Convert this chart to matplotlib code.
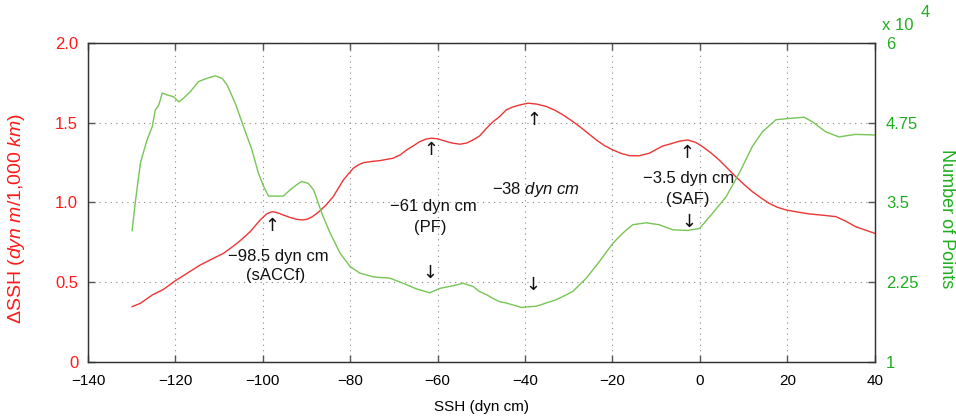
import matplotlib
matplotlib.use("Agg")
import matplotlib.pyplot as plt

plt.rcParams['font.family'] = ['Liberation Sans', 'DejaVu Sans']
plt.rcParams['mathtext.fontset'] = 'custom'
plt.rcParams['mathtext.rm'] = 'Liberation Sans'
plt.rcParams['mathtext.it'] = 'Liberation Sans:italic'

# Gradient of SSH (dyn m / 1,000 km) versus SSH (dyn cm)
ssh_grad = [-129.9, -128.0, -126.5, -125.3, -122.7, -120.0, -117.3, -114.3, -111.3,
            -109.0, -107.5, -105.9, -104.4, -102.9, -100.6, -99.1, -98.3, -97.7,
            -96.5, -95.3, -93.7, -92.2, -91.0, -89.9, -88.7, -87.6, -86.9, -85.5,
            -83.9, -82.7, -81.6, -80.4, -79.3, -78.0, -77.0, -75.0, -73.2, -70.2,
            -68.5, -67.1, -65.5, -64.1, -62.7, -61.4, -60.0, -58.7, -56.8, -54.9,
            -53.3, -51.9, -50.4, -48.8, -47.3, -45.8, -44.3, -42.8, -41.2, -39.3,
            -37.3, -35.1, -33.2, -31.3, -29.4, -27.5, -25.6, -23.7, -21.8, -19.9,
            -18.0, -16.1, -14.0, -11.6, -10.0, -8.5, -7.0, -4.7, -2.8, -1.0, 0.6,
            2.5, 4.4, 6.3, 8.2, 10.1, 12.0, 13.9, 15.8, 17.7, 19.7, 22.3, 25.0,
            28.0, 31.1, 33.4, 35.6, 38.0, 40.0]
grad = [0.345, 0.366, 0.395, 0.418, 0.454, 0.508, 0.555, 0.607, 0.649,
        0.680, 0.710, 0.743, 0.778, 0.816, 0.890, 0.928, 0.938, 0.942,
        0.934, 0.921, 0.905, 0.894, 0.890, 0.894, 0.910, 0.932, 0.948, 0.985,
        1.036, 1.090, 1.140, 1.180, 1.215, 1.238, 1.250, 1.258, 1.263, 1.278,
        1.300, 1.330, 1.357, 1.382, 1.398, 1.404, 1.400, 1.389, 1.374, 1.366,
        1.374, 1.393, 1.418, 1.467, 1.508, 1.540, 1.582, 1.600, 1.613, 1.624,
        1.618, 1.603, 1.580, 1.550, 1.515, 1.477, 1.435, 1.393, 1.357, 1.330,
        1.308, 1.294, 1.293, 1.309, 1.333, 1.355, 1.366, 1.385, 1.393, 1.378, 1.351,
        1.312, 1.267, 1.215, 1.162, 1.113, 1.068, 1.030, 0.995, 0.970, 0.953, 0.940, 0.928,
        0.920, 0.911, 0.882, 0.848, 0.825, 0.806]

# Number of points (x 10^4) versus SSH (dyn cm)
ssh_count = [-129.9, -129.1, -128.0, -126.5, -125.3, -124.6, -123.8, -123.0, -121.9,
             -120.4, -119.2, -118.1, -116.6, -114.7, -112.8, -110.9, -109.3, -108.2,
             -106.3, -104.4, -102.5, -101.0, -99.8, -98.7, -96.8, -95.3, -93.7, -92.2,
             -91.1, -89.6, -88.4, -87.3, -86.5, -84.6, -82.3, -80.0, -77.8, -74.7,
             -70.9, -67.9, -64.8, -61.8, -59.5, -56.5, -54.2, -51.9, -50.4, -48.8,
             -47.3, -45.8, -44.3, -40.8, -37.4, -32.9, -29.1, -26.0, -23.0, -19.9,
             -17.6, -15.4, -12.3, -9.3, -7.0, -6.2, -2.8, -0.1, 2.9, 6.0, 9.0, 12.0,
             14.3, 17.4, 20.4, 23.8, 25.7, 28.8, 31.8, 35.6, 40.0]
count = [3.057, 3.54, 4.12, 4.48, 4.69, 4.95, 5.03, 5.22, 5.19,
         5.16, 5.08, 5.14, 5.24, 5.40, 5.45, 5.49, 5.45, 5.35,
         5.06, 4.69, 4.33, 3.96, 3.75, 3.60, 3.60, 3.60, 3.70, 3.78,
         3.83, 3.80, 3.70, 3.49, 3.33, 3.02, 2.70, 2.49, 2.39, 2.33,
         2.31, 2.23, 2.14, 2.08, 2.15, 2.19, 2.23, 2.18, 2.10, 2.05,
         1.99, 1.94, 1.92, 1.85, 1.87, 1.97, 2.10, 2.31, 2.57, 2.86,
         3.02, 3.15, 3.18, 3.15, 3.09, 3.07, 3.06, 3.09, 3.33, 3.59, 3.96, 4.38,
         4.61, 4.80, 4.82, 4.84, 4.77, 4.61, 4.53, 4.57, 4.56]

x_ticks = [-140, -120, -100, -80, -60, -40, -20, 0, 20, 40]
left_ticks = [0, 0.5, 1.0, 1.5, 2.0]
left_labels = ['0', '0.5', '1.0', '1.5', '2.0']
right_ticks = [1, 2.25, 3.5, 4.75, 6]
right_labels = ['1', '2.25', '3.5', '4.75', '6']

RED = '#ee3535'
RED_TXT = '#ff1a1a'
GREEN = '#77c655'
GREEN_TXT = '#1fae1f'
FS = 11

fig = plt.figure(figsize=(9.56, 4.17), dpi=100)
ax = fig.add_axes([0.092, 0.133, 0.823, 0.763])
ax2 = ax.twinx()

ax.plot(ssh_grad, grad, color=RED, lw=1.0, zorder=3)
ax2.plot(ssh_count, count, color=GREEN, lw=1.0)

ax.set_xlim(-140, 40)
ax.set_ylim(0, 2.0)
ax2.set_ylim(1, 6)
ax.set_xticks(x_ticks)
ax.set_xticklabels([str(t).replace('-', '\u2212') for t in x_ticks], fontsize=FS)
ax.set_yticks(left_ticks)
ax.set_yticklabels(left_labels, fontsize=FS + 1, color=RED_TXT)
ax2.set_yticks(right_ticks)
ax2.set_yticklabels(right_labels, fontsize=FS + 1, color=GREEN_TXT)

ax.grid(True, linestyle=(0, (1, 4)), color='#888888', lw=0.8)
ax.tick_params(axis='both', direction='in', length=5, width=1, color='#555555',
               top=True, pad=7)
ax.tick_params(axis='x', pad=9)
ax.tick_params(axis='y', colors=RED_TXT, color='#555555')
ax2.tick_params(axis='y', direction='in', length=5, width=1, color='#555555',
                colors=GREEN_TXT, pad=8)
ax2.tick_params(axis='y', color='#555555')
for sp in list(ax.spines.values()) + list(ax2.spines.values()):
    sp.set_color('#333333')
    sp.set_linewidth(0.9)

ax.set_xlabel('SSH (dyn cm)', fontsize=FS)
ax.xaxis.set_label_coords(0.5, -0.12)
ax.set_ylabel(r'ΔSSH $\mathit{(dyn\ m/1{,}000\ km)}$', fontsize=FS + 3,
              color=RED_TXT)
ax.yaxis.set_label_coords(-0.077, 0.45)
ax2.set_ylabel('Number of Points', fontsize=FS + 2, color=GREEN_TXT,
               rotation=270, va='center')
ax2.yaxis.set_label_coords(1.091, 0.45)

fig.text(0.923, 0.94, 'x 10', fontsize=FS + 1, color=GREEN_TXT, ha='left', va='center')
fig.text(0.963, 0.969, '4', fontsize=FS + 1, color=GREEN_TXT, ha='left', va='center')

# Front annotations
def note(x, y, s):
    ax.text(x, y, s, ha='center', va='center', fontsize=FS + 1, color='#111111')

def arrow(x, y, up=True):
    ax.text(x, y, '\u2191' if up else '\u2193', ha='center', va='center',
            fontsize=FS + 2, color='#111111', family=['DejaVu Sans'])

note(-96.4, 0.66, '\u221298.5 dyn cm')
note(-97.0, 0.54, '(sACCf)')
arrow(-97.8, 0.85, True)

note(-61.0, 0.975, '\u221261 dyn cm')
note(-61.7, 0.84, '(PF)')
arrow(-61.5, 1.33, True)
arrow(-61.8, 0.56, False)

ax.text(-37.6, 1.08, '\u221238 $\\mathit{dyn\\ cm}$',
        ha='center', va='center', fontsize=FS + 1, color='#111111')
arrow(-38.0, 1.52, True)
arrow(-38.2, 0.48, False)

note(-2.5, 1.15, '\u22123.5 dyn cm')
note(-2.8, 1.02, '(SAF)')
arrow(-3.0, 1.31, True)
arrow(-2.5, 0.88, False)

fig.savefig('out.png', dpi=100)
